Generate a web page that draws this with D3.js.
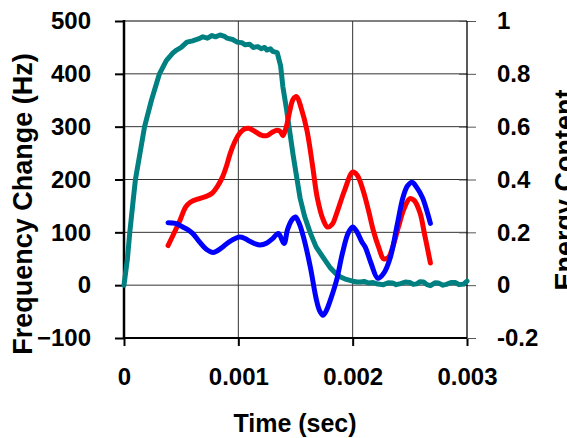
<!DOCTYPE html>
<html>
<head>
<meta charset="utf-8">
<script src="https://cdn.jsdelivr.net/npm/d3@7"></script>
<style>
  body { margin: 0; background: #fff; }
  text { font-family: "Liberation Sans", Arial, sans-serif; font-weight: bold; }
</style>
</head>
<body>
<svg width="567" height="438"></svg>
<script>
// time in seconds, frequency in Hz, energy as fraction
var energyT = [0, 0.00003, 0.00005, 0.00008, 0.0001, 0.00014, 0.00018, 0.00024, 0.00031, 0.00037,
  0.00043, 0.00046, 0.0005, 0.00055, 0.0006, 0.00065, 0.00069, 0.00073, 0.00077, 0.0008, 0.00084,
  0.00088, 0.0009, 0.00095, 0.00099, 0.00103, 0.00106, 0.0011, 0.00113, 0.00117, 0.0012, 0.00123,
  0.00125, 0.00128, 0.0013, 0.00134, 0.00137, 0.00139, 0.00142, 0.00145, 0.00148, 0.00151, 0.00154,
  0.00158, 0.00163, 0.00168, 0.00174, 0.0018, 0.00185, 0.00189, 0.00193, 0.00196, 0.002, 0.00204,
  0.00207, 0.0021, 0.00214, 0.00218, 0.00222, 0.00227, 0.00231, 0.00235, 0.00238, 0.00242, 0.00246,
  0.0025, 0.00253, 0.00256, 0.00259, 0.00262, 0.00265, 0.00268, 0.00272, 0.00275, 0.00279, 0.00282,
  0.00286, 0.0029, 0.00293, 0.00297, 0.003];
var energyV = [0, 0.1, 0.197, 0.32, 0.4, 0.5, 0.6, 0.7, 0.8, 0.85,
  0.88, 0.89, 0.9, 0.92, 0.925, 0.932, 0.94, 0.935, 0.945, 0.94, 0.947,
  0.942, 0.935, 0.93, 0.92, 0.918, 0.91, 0.912, 0.9, 0.903, 0.895, 0.9,
  0.89, 0.895, 0.885, 0.88, 0.83, 0.75, 0.67, 0.58, 0.49, 0.41, 0.33,
  0.26, 0.197, 0.145, 0.106, 0.068, 0.045, 0.032, 0.024, 0.02, 0.015, 0.012,
  0.012, 0.014, 0.008, 0.01, 0.004, 0.002, 0.009, 0.008, 0.002, 0.006, 0.012,
  0.01, 0.003, 0.005, 0.013, 0.012, 0.002, -0.002, 0.009, 0.008, 0.0, 0.003,
  0.01, 0.01, 0.002, 0.004, 0.015];

var redT = [0.000385, 0.00043, 0.00049, 0.00054, 0.00058, 0.00066, 0.00072, 0.00077, 0.00082,
  0.00086, 0.0009, 0.00093, 0.00097, 0.00101, 0.00105, 0.00109, 0.00116, 0.0012, 0.00125, 0.0013,
  0.00134, 0.00137, 0.00139, 0.00142, 0.00145, 0.00148, 0.00151, 0.00155, 0.0016, 0.00165, 0.00169,
  0.00174, 0.00178, 0.00182, 0.00186, 0.00193, 0.002, 0.00204, 0.00209, 0.00214, 0.00218, 0.00223,
  0.00227, 0.00231, 0.00235, 0.0024, 0.00245, 0.0025, 0.00254, 0.00259, 0.00263, 0.00268];
var redV = [75, 95, 123, 148, 157, 164, 168, 174, 188,
  204, 228, 250, 272, 287, 295, 297, 289, 284, 283, 290,
  293, 290, 283, 300, 330, 352, 357, 335, 293, 225, 166,
  125, 110, 115, 136, 180, 214, 208, 180, 140, 104, 70,
  50, 52, 72, 110, 145, 164, 160, 136, 95, 42];

var blueT = [0.000385, 0.00045, 0.00049, 0.00055, 0.0006, 0.00066, 0.00072, 0.00078, 0.00085,
  0.00092, 0.00101, 0.00106, 0.0011, 0.00115, 0.00119, 0.00125, 0.0013, 0.00135, 0.0014, 0.00143,
  0.00147, 0.0015, 0.00153, 0.00157, 0.00163, 0.00168, 0.00171, 0.00174, 0.00177, 0.00181, 0.00186,
  0.00191, 0.00196, 0.002, 0.00204, 0.00208, 0.00211, 0.00216, 0.00222, 0.00227, 0.00233,
  0.00239, 0.00244, 0.00248, 0.00252, 0.00256, 0.00261, 0.00265, 0.00268];
var blueV = [118, 117, 113, 106, 98, 82, 68, 62, 70,
  82, 91, 88, 83, 78, 76, 80, 88, 98, 79, 105,
  124, 129, 118, 91, 34, -25, -48, -57, -48, -25, 10,
  60, 98, 110, 100, 82, 72, 42, 13, 22, 53,
  115, 166, 188, 195, 185, 166, 140, 117];

var xTicks = [0, 0.001, 0.002, 0.003];
var xTickLabels = ["0", "0.001", "0.002", "0.003"];
var yTicks = [-100, 0, 100, 200, 300, 400, 500];
var y2Ticks = [-0.2, 0, 0.2, 0.4, 0.6, 0.8, 1];
var y2TickLabels = ["-0.2", "0", "0.2", "0.4", "0.6", "0.8", "1"];

var svg = d3.select("svg");
var plotL = 124, plotR = 467, plotT = 21, plotB = 338;

var x = d3.scaleLinear().domain([0, 0.003]).range([plotL, plotR]);
var y = d3.scaleLinear().domain([-100, 500]).range([plotB, plotT]);
var y2 = d3.scaleLinear().domain([-0.2, 1]).range([plotB, plotT]);

// grid
svg.append("g")
    .selectAll("line")
    .data(yTicks.filter(d => d > -100))
    .enter()
    .append("line")
    .attr("x1", plotL).attr("x2", plotR)
    .attr("y1", d => y(d)).attr("y2", d => y(d))
    .attr("stroke", d => d == 500 ? "#000" : "#333")
    .attr("stroke-width", 1);

svg.append("g")
    .selectAll("line")
    .data([0.001, 0.002])
    .enter()
    .append("line")
    .attr("x1", d => x(d)).attr("x2", d => x(d))
    .attr("y1", plotT).attr("y2", plotB)
    .attr("stroke", "#333")
    .attr("stroke-width", 1);

// axes
var xAxis = svg.append("g")
    .attr("transform", "translate(0," + plotB + ")")
    .call(d3.axisBottom(x).tickValues(xTicks).tickFormat((d, i) => xTickLabels[i]).tickSize(8).tickPadding(22));

var yAxis = svg.append("g")
    .attr("transform", "translate(" + plotL + ",0)")
    .call(d3.axisLeft(y).tickValues(yTicks).tickSize(9).tickPadding(24));

var y2Axis = svg.append("g")
    .attr("transform", "translate(" + plotR + ",0)")
    .call(d3.axisRight(y2).tickValues(y2Ticks).tickFormat((d, i) => y2TickLabels[i]).tickSize(9).tickPadding(21));

[xAxis, yAxis, y2Axis].forEach(function (a) {
    a.select(".domain").remove();
    a.selectAll("text").attr("font-size", 24).attr("fill", "#000")
        .style("font-family", "'Liberation Sans', Arial, sans-serif").style("font-weight", "bold");
});
xAxis.selectAll("line").attr("stroke", "#000").attr("stroke-width", 2);
yAxis.selectAll("line").attr("stroke", "#000").attr("stroke-width", 2);
y2Axis.selectAll("line").attr("stroke", "#555").attr("stroke-width", 1).attr("x1", -8);

svg.append("line").attr("x1", plotL).attr("x2", plotL).attr("y1", plotT - 1).attr("y2", plotB + 1)
    .attr("stroke", "#000").attr("stroke-width", 2.5);
svg.append("line").attr("x1", plotL).attr("x2", plotR).attr("y1", plotB).attr("y2", plotB)
    .attr("stroke", "#000").attr("stroke-width", 2);
svg.append("line").attr("x1", plotR).attr("x2", plotR).attr("y1", plotT).attr("y2", plotB)
    .attr("stroke", "#000").attr("stroke-width", 1.3);

// series
var lineF = d3.line().x(d => x(d[0])).y(d => y(d[1])).curve(d3.curveCatmullRom);
var lineE = d3.line().x(d => x(d[0])).y(d => y2(d[1])).curve(d3.curveLinear);

svg.append("path")
    .datum(d3.zip(energyT, energyV))
    .attr("d", lineE)
    .attr("fill", "none").attr("stroke", "#008080").attr("stroke-width", 5)
    .attr("stroke-linejoin", "round").attr("stroke-linecap", "round");

svg.append("path")
    .datum(d3.zip(redT, redV))
    .attr("d", lineF)
    .attr("fill", "none").attr("stroke", "#ff0000").attr("stroke-width", 5)
    .attr("stroke-linejoin", "round").attr("stroke-linecap", "round");

svg.append("path")
    .datum(d3.zip(blueT, blueV))
    .attr("d", lineF)
    .attr("fill", "none").attr("stroke", "#0000ff").attr("stroke-width", 5)
    .attr("stroke-linejoin", "round").attr("stroke-linecap", "round");

// titles
svg.append("text")
    .attr("x", 295).attr("y", 432)
    .attr("text-anchor", "middle")
    .attr("font-size", 25)
    .text("Time (sec)");

svg.append("text")
    .attr("transform", "translate(32,204) rotate(-90)")
    .attr("text-anchor", "middle")
    .attr("font-size", 27)
    .text("Frequency Change (Hz)");

svg.append("text")
    .attr("transform", "translate(574,190) rotate(-90)")
    .attr("text-anchor", "middle")
    .attr("font-size", 27)
    .text("Energy Content");
</script>
</body>
</html>
